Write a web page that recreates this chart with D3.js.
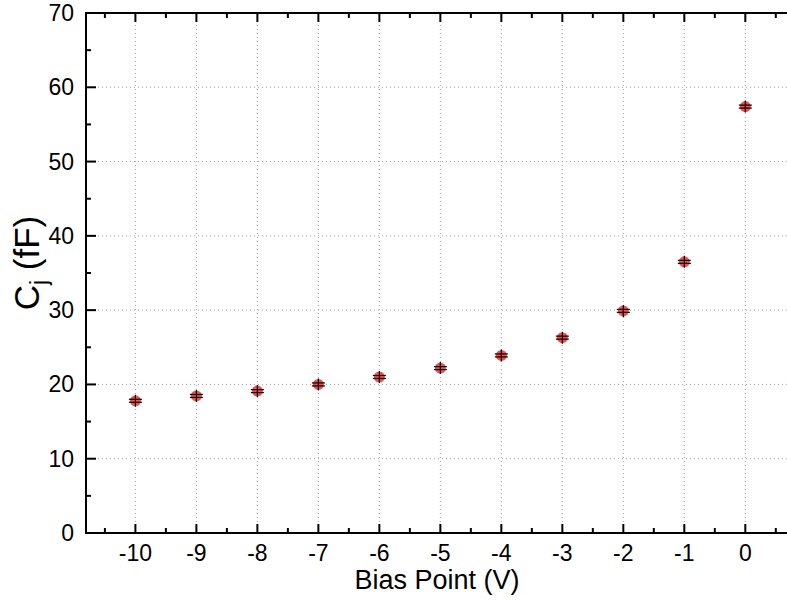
<!DOCTYPE html>
<html><head><meta charset="utf-8">
<script src="https://cdn.jsdelivr.net/npm/d3@7"></script>
<style>body{margin:0;background:#fff}svg{display:block}text{font-family:"Liberation Sans",Arial,sans-serif;fill:#000}</style>
</head><body><svg id="c" width="787" height="601"></svg>
<script>
const biasPoints = [-10,-9,-8,-7,-6,-5,-4,-3,-2,-1,0];
const cjValues = [17.8,18.45,19.1,20.0,21.0,22.2,23.9,26.3,29.9,36.5,57.4];
const cjErrors = [0.2,0.2,0.2,0.2,0.2,0.2,0.2,0.2,0.2,0.2,0.2];
const xTicks = [-10,-9,-8,-7,-6,-5,-4,-3,-2,-1,0];
const yTicks = [0,10,20,30,40,50,60,70];

const svg = d3.select("#c");
const x = d3.scaleLinear().domain([-10.81, 0.7]).range([86, 788]);
const y = d3.scaleLinear().domain([0, 70]).range([533, 13]);
const L = 86, R = 790, T = 13, B = 533;

// grid
const g = svg.append("g");
g.selectAll(".gx").data(xTicks).join("line")
  .attr("x1", d => x(d)).attr("x2", d => x(d)).attr("y1", T).attr("y2", B)
  .attr("stroke", "#a0a0a0").attr("stroke-width", 1).attr("stroke-dasharray", "1,3");
g.selectAll(".gy").data(yTicks.filter(d => d > 0 && d < 70)).join("line")
  .attr("y1", d => y(d)).attr("y2", d => y(d)).attr("x1", L).attr("x2", R)
  .attr("stroke", "#a0a0a0").attr("stroke-width", 1).attr("stroke-dasharray", "1,3");

// axes
const xMinor = d3.range(-10.5, 0.6, 1);
const yMinor = d3.range(5, 70, 10);
const ax = svg.append("g");
ax.selectAll(".bt").data(xTicks).join("line").attr("x1", d => x(d)).attr("x2", d => x(d)).attr("y1", B).attr("y2", B - 9).attr("stroke", "#000").attr("stroke-width", 2);
ax.selectAll(".bm").data(xMinor).join("line").attr("x1", d => x(d)).attr("x2", d => x(d)).attr("y1", B).attr("y2", B - 5).attr("stroke", "#000").attr("stroke-width", 2);
ax.selectAll(".tt").data(xTicks).join("line").attr("x1", d => x(d)).attr("x2", d => x(d)).attr("y1", T).attr("y2", T + 9).attr("stroke", "#000").attr("stroke-width", 2);
ax.selectAll(".tm").data(xMinor).join("line").attr("x1", d => x(d)).attr("x2", d => x(d)).attr("y1", T).attr("y2", T + 5).attr("stroke", "#000").attr("stroke-width", 2);
ax.selectAll(".lt").data(yTicks).join("line").attr("y1", d => y(d)).attr("y2", d => y(d)).attr("x1", L).attr("x2", L + 10).attr("stroke", "#000").attr("stroke-width", 2);
ax.selectAll(".lm").data(yMinor).join("line").attr("y1", d => y(d)).attr("y2", d => y(d)).attr("x1", L).attr("x2", L + 5).attr("stroke", "#000").attr("stroke-width", 2);
ax.append("line").attr("x1", L).attr("x2", R).attr("y1", B).attr("y2", B).attr("stroke", "#000").attr("stroke-width", 2);
ax.append("line").attr("x1", L).attr("x2", R).attr("y1", T).attr("y2", T).attr("stroke", "#000").attr("stroke-width", 2);
ax.append("line").attr("x1", L).attr("x2", L).attr("y1", T - 1).attr("y2", B + 1).attr("stroke", "#000").attr("stroke-width", 2);

// tick labels
svg.selectAll(".xl").data(xTicks).join("text").attr("x", d => x(d)).attr("y", 561)
  .attr("text-anchor", "middle").attr("font-size", 23).text(d => d);
svg.selectAll(".yl").data(yTicks).join("text").attr("x", 74).attr("y", d => y(d) + 8)
  .attr("text-anchor", "end").attr("font-size", 23).text(d => d);

// titles
svg.append("text").attr("x", 437).attr("y", 589).attr("text-anchor", "middle").attr("font-size", 27).text("Bias Point (V)");
const yt = svg.append("text").attr("transform", "translate(39,263) rotate(-90)").attr("text-anchor", "middle").attr("font-size", 35);
yt.append("tspan").text("C");
yt.append("tspan").attr("font-size", 23).attr("dy", 8).text("j");
yt.append("tspan").attr("dy", -8).text(" (fF)");

// points
const pts = svg.append("g");
const data = biasPoints.map((b, i) => ({b, v: cjValues[i], e: cjErrors[i]}));
pts.selectAll("circle").data(data).join("circle").attr("cx", d => x(d.b)).attr("cy", d => y(d.v)).attr("r", 5.5).attr("fill", "#f23a3a").attr("opacity", 0.9);
pts.selectAll(".ev").data(data).join("line").attr("x1", d => x(d.b)).attr("x2", d => x(d.b)).attr("y1", d => y(d.v) - 6).attr("y2", d => y(d.v) + 6).attr("stroke", "#000").attr("stroke-width", 1.2);
pts.selectAll(".eu").data(data).join("line").attr("x1", d => x(d.b) - 6.5).attr("x2", d => x(d.b) + 6.5).attr("y1", d => y(d.v + d.e)).attr("y2", d => y(d.v + d.e)).attr("stroke", "#000").attr("stroke-width", 1.2);
pts.selectAll(".el").data(data).join("line").attr("x1", d => x(d.b) - 6.5).attr("x2", d => x(d.b) + 6.5).attr("y1", d => y(d.v - d.e)).attr("y2", d => y(d.v - d.e)).attr("stroke", "#000").attr("stroke-width", 1.2);
</script></body></html>
